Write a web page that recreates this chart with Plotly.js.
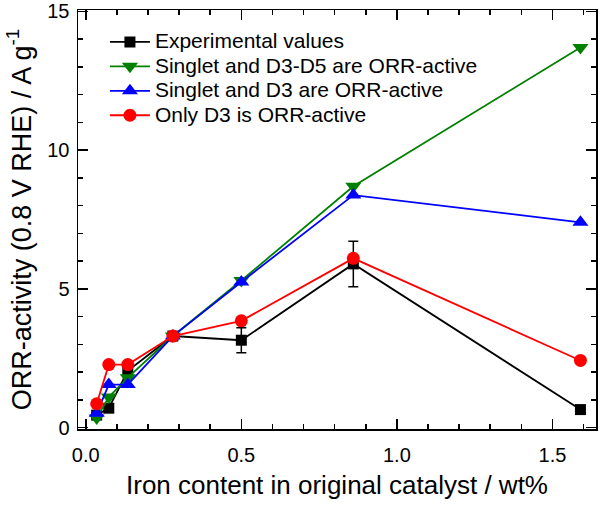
<!DOCTYPE html>
<html><head><meta charset="utf-8">
<script src="https://cdn.plot.ly/plotly-3.0.1.min.js"></script>
<style>html,body{margin:0;padding:0;background:#fff}#chart{width:600px;height:509px}</style>
</head><body><div id="chart"></div>
<script>
var ironContent = [0.035, 0.074, 0.135, 0.28, 0.50, 0.86, 1.59];
var experimental = [0.45, 0.70, 2.05, 3.30, 3.15, 5.90, 0.65];
var experimentalErr = [0, 0, 0.3, 0.12, 0.45, 0.82, 0];
var singletD3D5 = [0.35, 1.10, 1.80, 3.30, 5.30, 8.70, 13.70];
var singletD3 = [0.52, 1.55, 1.55, 3.30, 5.25, 8.38, 7.40];
var onlyD3 = [0.86, 2.27, 2.27, 3.30, 3.85, 6.10, 2.42];
var seriesNames = ["Experimental values", "Singlet and D3-D5 are ORR-active", "Singlet and D3 are ORR-active", "Only D3 is ORR-active"];

var font = "Liberation Sans, Arial, sans-serif";
function tr(y, name, color, symbol, size, err) {
  var t = {x: ironContent, y: y, name: '<span style="font-size:21px">' + name + '</span>', type: 'scatter', mode: 'lines+markers',
    line: {color: color, width: 1.8}, marker: {color: color, symbol: symbol, size: size}};
  if (err) t.error_y = {type: 'data', array: err, visible: true, color: '#000', thickness: 1.5, width: 5};
  return t;
}
var data = [
  tr(experimental, seriesNames[0], '#000000', 'square', 11, experimentalErr),
  tr(singletD3D5, seriesNames[1], '#008000', 'triangle-down', 14),
  tr(singletD3, seriesNames[2], '#0000ff', 'triangle-up', 14),
  tr(onlyD3, seriesNames[3], '#ff0000', 'circle', 13)
];
var layout = {
  width: 600, height: 509,
  margin: {l: 78, r: 4, t: 10, b: 80},
  paper_bgcolor: '#fff', plot_bgcolor: '#fff',
  font: {family: font, size: 20, color: '#000'},
  showlegend: true,
  legend: {x: 0.052, y: 0.965, xanchor: 'left', yanchor: 'top', bgcolor: 'rgba(0,0,0,0)',
    font: {family: font, size: 16.5, color: '#000'}, tracegroupgap: 0, itemwidth: 40},
  xaxis: {range: [-0.025, 1.64], showgrid: false, zeroline: false, showline: true, linecolor: '#000', linewidth: 1.5,
    mirror: 'allticks', ticks: 'inside', ticklen: 10, tickwidth: 1.5, tickcolor: '#000', dtick: 0.5, tick0: 0,
    tickformat: '.1f', tickfont: {size: 20}, ticklabelstandoff: 7,
    minor: {dtick: 0.1, ticks: 'inside', ticklen: 5, tickwidth: 1.5, tickcolor: '#000', showgrid: false},
    title: {text: 'Iron content in original catalyst / wt%', font: {size: 26}, standoff: 11}},
  yaxis: {range: [-0.05, 15.05], showgrid: false, zeroline: false, showline: true, linecolor: '#000', linewidth: 1.5,
    mirror: 'allticks', ticks: 'inside', ticklen: 10, tickwidth: 1.5, tickcolor: '#000', dtick: 5, tick0: 0,
    tickfont: {size: 20}, ticklabelstandoff: 3,
    minor: {dtick: 1, ticks: 'inside', ticklen: 5, tickwidth: 1.5, tickcolor: '#000', showgrid: false},
    title: {text: 'ORR-activity (0.8 V RHE) / A g<sup>-1</sup>', font: {size: 27}, standoff: 8}}
};
Plotly.newPlot('chart', data, layout, {displayModeBar: false, staticPlot: true});
</script></body></html>
